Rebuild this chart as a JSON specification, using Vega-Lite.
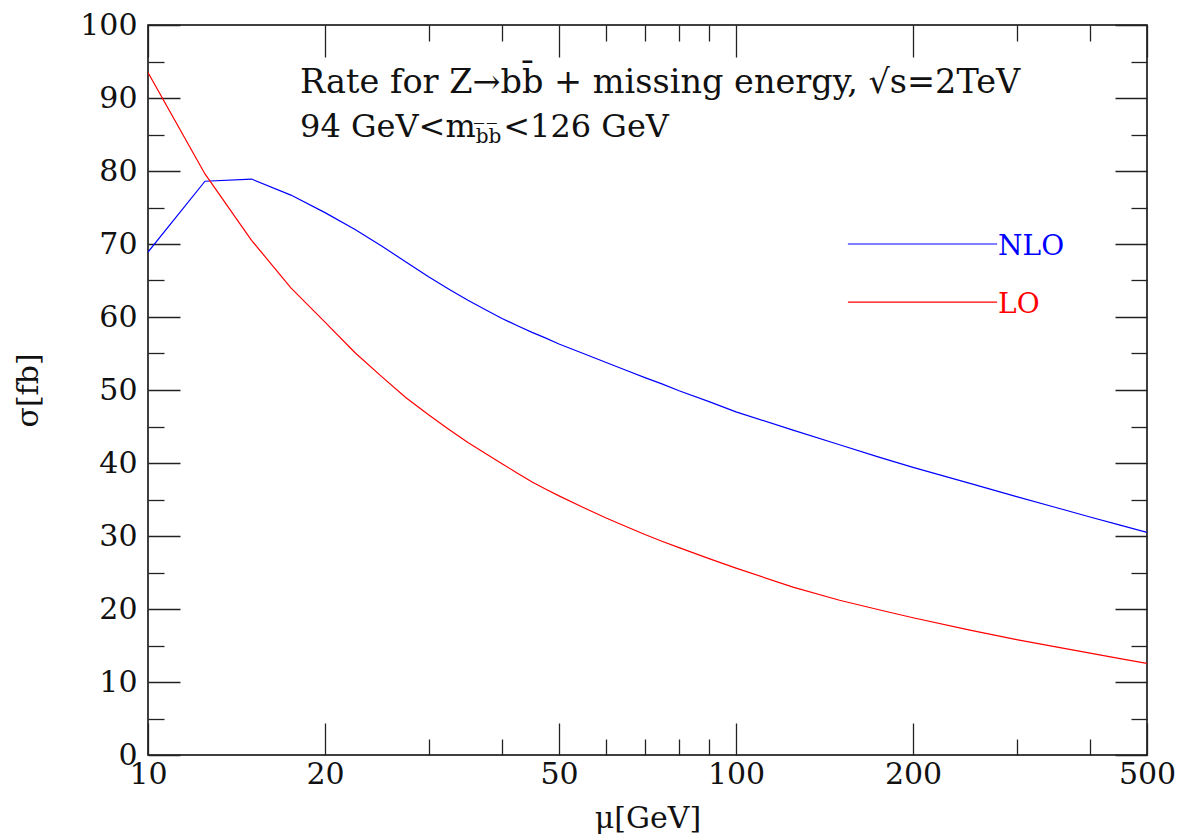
{
  "$schema": "https://vega.github.io/schema/vega-lite/v6.json",
  "width": 999,
  "height": 730,
  "autosize": {"type": "none"},
  "padding": {"left": 148, "top": 25, "right": 34, "bottom": 82},
  "background": "white",
  "config": {
    "view": {"stroke": "black", "strokeWidth": 1.5},
    "font": "DejaVu Serif",
    "axis": {"labelFont": "DejaVu Serif", "titleFont": "DejaVu Serif", "labelColor": "#111", "titleColor": "#111", "titleFontWeight": "normal", "tickColor": "#222", "tickWidth": 1.3, "domain": false, "grid": false, "labelOverlap": false, "labelBound": false, "labelFlush": false}
  },
  "datasets": {
    "curves": [
      {"mu": 10, "sigma": 68.9, "order": "NLO"},
      {"mu": 12.5, "sigma": 78.6, "order": "NLO"},
      {"mu": 15, "sigma": 78.9, "order": "NLO"},
      {"mu": 17.5, "sigma": 76.7, "order": "NLO"},
      {"mu": 20, "sigma": 74.3, "order": "NLO"},
      {"mu": 22.5, "sigma": 72.0, "order": "NLO"},
      {"mu": 25, "sigma": 69.7, "order": "NLO"},
      {"mu": 27.5, "sigma": 67.5, "order": "NLO"},
      {"mu": 30, "sigma": 65.5, "order": "NLO"},
      {"mu": 32.5, "sigma": 63.8, "order": "NLO"},
      {"mu": 35, "sigma": 62.3, "order": "NLO"},
      {"mu": 37.5, "sigma": 61.0, "order": "NLO"},
      {"mu": 40, "sigma": 59.8, "order": "NLO"},
      {"mu": 42.5, "sigma": 58.8, "order": "NLO"},
      {"mu": 45, "sigma": 57.9, "order": "NLO"},
      {"mu": 47.5, "sigma": 57.1, "order": "NLO"},
      {"mu": 50, "sigma": 56.3, "order": "NLO"},
      {"mu": 55, "sigma": 55.0, "order": "NLO"},
      {"mu": 60, "sigma": 53.8, "order": "NLO"},
      {"mu": 65, "sigma": 52.7, "order": "NLO"},
      {"mu": 70, "sigma": 51.7, "order": "NLO"},
      {"mu": 75, "sigma": 50.8, "order": "NLO"},
      {"mu": 80, "sigma": 49.9, "order": "NLO"},
      {"mu": 90, "sigma": 48.4, "order": "NLO"},
      {"mu": 100, "sigma": 47.0, "order": "NLO"},
      {"mu": 125, "sigma": 44.5, "order": "NLO"},
      {"mu": 150, "sigma": 42.5, "order": "NLO"},
      {"mu": 175, "sigma": 40.8, "order": "NLO"},
      {"mu": 200, "sigma": 39.4, "order": "NLO"},
      {"mu": 250, "sigma": 37.2, "order": "NLO"},
      {"mu": 300, "sigma": 35.4, "order": "NLO"},
      {"mu": 350, "sigma": 33.9, "order": "NLO"},
      {"mu": 400, "sigma": 32.6, "order": "NLO"},
      {"mu": 450, "sigma": 31.5, "order": "NLO"},
      {"mu": 500, "sigma": 30.5, "order": "NLO"},
      {"mu": 10, "sigma": 93.5, "order": "LO"},
      {"mu": 12.5, "sigma": 79.6, "order": "LO"},
      {"mu": 15, "sigma": 70.5, "order": "LO"},
      {"mu": 17.5, "sigma": 64.0, "order": "LO"},
      {"mu": 20, "sigma": 59.3, "order": "LO"},
      {"mu": 22.5, "sigma": 55.1, "order": "LO"},
      {"mu": 25, "sigma": 51.8, "order": "LO"},
      {"mu": 27.5, "sigma": 48.9, "order": "LO"},
      {"mu": 30, "sigma": 46.6, "order": "LO"},
      {"mu": 32.5, "sigma": 44.6, "order": "LO"},
      {"mu": 35, "sigma": 42.8, "order": "LO"},
      {"mu": 37.5, "sigma": 41.3, "order": "LO"},
      {"mu": 40, "sigma": 39.9, "order": "LO"},
      {"mu": 42.5, "sigma": 38.6, "order": "LO"},
      {"mu": 45, "sigma": 37.4, "order": "LO"},
      {"mu": 47.5, "sigma": 36.4, "order": "LO"},
      {"mu": 50, "sigma": 35.5, "order": "LO"},
      {"mu": 55, "sigma": 33.9, "order": "LO"},
      {"mu": 60, "sigma": 32.5, "order": "LO"},
      {"mu": 65, "sigma": 31.3, "order": "LO"},
      {"mu": 70, "sigma": 30.2, "order": "LO"},
      {"mu": 75, "sigma": 29.25, "order": "LO"},
      {"mu": 80, "sigma": 28.4, "order": "LO"},
      {"mu": 90, "sigma": 26.9, "order": "LO"},
      {"mu": 100, "sigma": 25.6, "order": "LO"},
      {"mu": 125, "sigma": 23.0, "order": "LO"},
      {"mu": 150, "sigma": 21.2, "order": "LO"},
      {"mu": 175, "sigma": 19.9, "order": "LO"},
      {"mu": 200, "sigma": 18.8, "order": "LO"},
      {"mu": 250, "sigma": 17.1, "order": "LO"},
      {"mu": 300, "sigma": 15.8, "order": "LO"},
      {"mu": 350, "sigma": 14.8, "order": "LO"},
      {"mu": 400, "sigma": 13.95, "order": "LO"},
      {"mu": 450, "sigma": 13.2, "order": "LO"},
      {"mu": 500, "sigma": 12.55, "order": "LO"}
    ],
    "legend": [
      {"order": "NLO", "x1": 155, "x2": 278, "y": 70.0, "ty": 68.5},
      {"order": "LO", "x1": 155, "x2": 278, "y": 62.05, "ty": 60.55}
    ]
  },
  "layer": [
    {
      "data": {"name": "curves"},
      "mark": {"type": "line", "strokeWidth": 1.2, "clip": true},
      "encoding": {
        "x": {"field": "mu", "type": "quantitative",
          "scale": {"type": "log", "domain": [10, 500], "nice": false, "zero": false},
          "axis": {"orient": "bottom", "title": "μ[GeV]", "titleFontSize": 30, "titleX": 499.5, "titleY": 63, "titleBaseline": "middle",
            "values": [10, 20, 30, 40, 50, 60, 70, 80, 90, 100, 200, 300, 400, 500],
            "format": "d",
            "labelExpr": "indexof([10,20,50,100,200,500], datum.value) >= 0 ? datum.label : ''",
            "labelFontSize": 30, "labelPadding": 36, "labelBaseline": "top",
            "tickSize": {"condition": {"test": "indexof([10,20,50,100,200,500], datum.value) >= 0", "value": -32}, "value": -16}}},
        "y": {"field": "sigma", "type": "quantitative",
          "scale": {"domain": [0, 100], "nice": false, "zero": true},
          "axis": {"orient": "left", "title": "σ[fb]", "titleFontSize": 30, "titleX": -120, "titleY": 365, "titleBaseline": "middle", "titleAngle": -90,
            "values": [0, 5, 10, 15, 20, 25, 30, 35, 40, 45, 50, 55, 60, 65, 70, 75, 80, 85, 90, 95, 100],
            "labelExpr": "datum.value % 10 == 0 ? datum.label : ''",
            "labelFontSize": 30, "labelPadding": 43,
            "tickSize": {"condition": {"test": "datum.value % 10 == 0", "value": -32}, "value": -16}}},
        "color": {"field": "order", "type": "nominal", "scale": {"domain": ["NLO", "LO"], "range": ["#0000ff", "#ff0000"]}, "legend": null},
        "detail": {"field": "order"}
      }
    },
    {
      "data": {"name": "curves"},
      "mark": {"type": "point", "opacity": 0},
      "encoding": {
        "x": {"field": "mu", "type": "quantitative",
          "scale": {"type": "log", "domain": [10, 500], "nice": false, "zero": false},
          "axis": {"orient": "top", "title": null, "labels": false,
            "values": [10, 20, 30, 40, 50, 60, 70, 80, 90, 100, 200, 300, 400, 500],
            "tickSize": {"condition": {"test": "indexof([10,20,50,100,200,500], datum.value) >= 0", "value": -32}, "value": -16}}},
        "y": {"field": "sigma", "type": "quantitative",
          "scale": {"domain": [0, 100], "nice": false, "zero": true},
          "axis": {"orient": "right", "title": null, "labels": false,
            "values": [0, 5, 10, 15, 20, 25, 30, 35, 40, 45, 50, 55, 60, 65, 70, 75, 80, 85, 90, 95, 100],
            "tickSize": {"condition": {"test": "datum.value % 10 == 0", "value": -32}, "value": -16}}}
      }
    },
    {
      "data": {"name": "legend"},
      "mark": {"type": "rule", "strokeWidth": 1.2},
      "encoding": {
        "x": {"field": "x1", "type": "quantitative", "axis": null},
        "x2": {"field": "x2"},
        "y": {"field": "y", "type": "quantitative", "axis": null},
        "color": {"field": "order", "type": "nominal", "legend": null}
      }
    },
    {
      "data": {"name": "legend"},
      "mark": {"type": "text", "align": "left", "baseline": "alphabetic", "fontSize": 28, "font": "DejaVu Serif", "dx": 1},
      "encoding": {
        "x": {"field": "x2", "type": "quantitative", "axis": null},
        "y": {"field": "ty", "type": "quantitative", "axis": null},
        "text": {"field": "order"},
        "color": {"field": "order", "type": "nominal", "legend": null}
      }
    },
    {
      "data": {"values": [{}]},
      "mark": {"type": "text", "align": "left", "baseline": "alphabetic", "fontSize": 33.5, "font": "DejaVu Serif", "color": "#111", "text": "Rate for Z→bb̄ + missing energy, √s=2TeV"},
      "encoding": {"x": {"datum": 18.14, "type": "quantitative", "axis": null}, "y": {"datum": 90.68, "type": "quantitative", "axis": null}}
    },
    {
      "data": {"values": [{}]},
      "mark": {"type": "text", "align": "left", "baseline": "alphabetic", "fontSize": 32, "font": "DejaVu Serif", "color": "#111", "text": "94 GeV<m"},
      "encoding": {"x": {"datum": 18.14, "type": "quantitative", "axis": null}, "y": {"datum": 84.66, "type": "quantitative", "axis": null}}
    },
    {
      "data": {"values": [{}]},
      "mark": {"type": "text", "align": "left", "baseline": "alphabetic", "fontSize": 20, "font": "DejaVu Serif", "color": "#111", "text": "b̅b̅"},
      "encoding": {"x": {"datum": 36.1, "type": "quantitative", "axis": null}, "y": {"datum": 83.8, "type": "quantitative", "axis": null}}
    },
    {
      "data": {"values": [{}]},
      "mark": {"type": "text", "align": "left", "baseline": "alphabetic", "fontSize": 32, "font": "DejaVu Serif", "color": "#111", "text": "<126 GeV"},
      "encoding": {"x": {"datum": 40.2, "type": "quantitative", "axis": null}, "y": {"datum": 84.66, "type": "quantitative", "axis": null}}
    }
  ],
  "resolve": {"axis": {"x": "independent", "y": "independent"}}
}
